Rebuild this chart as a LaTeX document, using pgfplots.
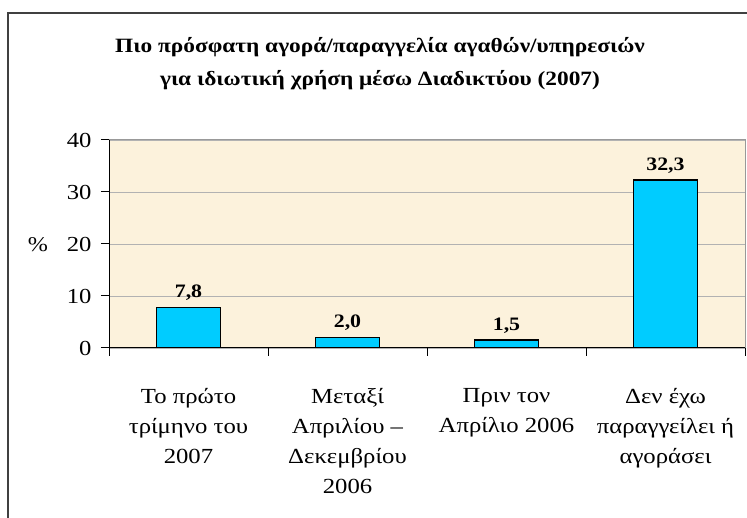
\documentclass[border=0pt]{standalone}
\usepackage{pgfplots}
\pgfplotsset{compat=1.18}
\usepackage{fontspec}
\setmainfont[FakeStretch=1.15]{Liberation Serif}
\definecolor{plotbg}{RGB}{252,242,220}
\definecolor{barcyan}{RGB}{0,204,255}
\begin{document}
\begin{tikzpicture}[x=1pt,y=1pt]
\path[use as bounding box] (0,0) rectangle (747,518);
% outer chart frame
\draw[line width=1.5pt, black!75] (8,0) -- (8,505) -- (747,505);
\node[font=\bfseries\fontsize{20.3}{33}\selectfont, align=center] at (380,454)
  {Πιο πρόσφατη αγορά/παραγγελία αγαθών/υπηρεσιών\\για ιδιωτική χρήση μέσω Διαδικτύου (2007)};
\node[font=\fontsize{21}{23}\selectfont] at (38,273) {\%};
\begin{axis}[
    at={(109pt,170pt)}, anchor=south west,
    scale only axis, width=636pt, height=208pt,
    ybar, bar width=64pt,
    xmin=-0.5, xmax=3.5, ymin=0, ymax=40,
    axis background/.style={fill=plotbg},
    axis line style={gray!80, line width=1pt},
    tick align=outside, tick pos=left,
    major tick length=8pt,
    tick style={black, line width=1pt},
    ytick={0,10,20,30,40},
    ymajorgrids, grid style={gray!60, line width=0.8pt},
    xtick={-0.5,0.5,1.5,2.5,3.5}, xticklabels={},
    extra x ticks={0,1,2,3},
    extra x tick labels={{Το πρώτο\\τρίμηνο του\\2007},{Μεταξί\\Απριλίου –\\Δεκεμβρίου\\2006},{Πριν τον\\Απρίλιο 2006},{Δεν έχω\\παραγγείλει ή\\αγοράσει}},
    extra x tick style={major tick length=0pt,
      xticklabel style={align=center, font=\fontsize{21.5}{30}\selectfont, yshift=-37pt}},
    yticklabel style={font=\fontsize{21.4}{21}\selectfont, xshift=-6pt},
    /pgf/number format/assume math mode=true,
    nodes near coords={\pgfmathprintnumber[fixed,fixed zerofill,precision=1,use comma]{\pgfplotspointmeta}},
    nodes near coords style={font=\bfseries\fontsize{19}{19}\selectfont, black, yshift=3pt},
]
\addplot[fill=barcyan, draw=black, line width=1.5pt] coordinates {
    (0,7.8)
    (1,2.0)
    (2,1.5)
    (3,32.3)
};
\draw[black, line width=1.2pt] (rel axis cs:0,1) -- (rel axis cs:0,0) -- (rel axis cs:1,0);
\end{axis}
\end{tikzpicture}
\end{document}
